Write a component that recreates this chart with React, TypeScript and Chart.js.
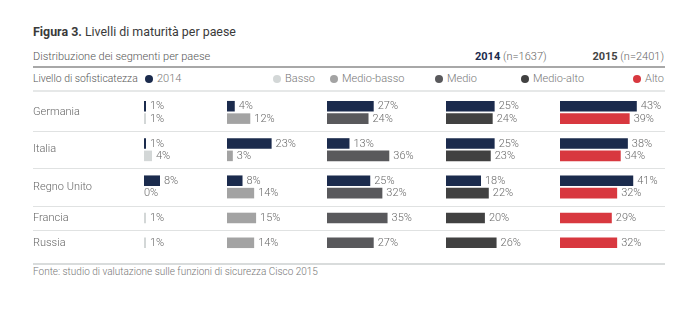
import React, { useEffect, useRef } from 'react';
import { Chart, registerables } from 'chart.js';

Chart.register(...registerables);

// ---------- data ----------
const countries = ['Germania', 'Italia', 'Regno Unito', 'Francia', 'Russia'];
const levels = ['Basso', 'Medio-basso', 'Medio', 'Medio-alto', 'Alto'];

const basso2014 = [1, 1, 8, null, null];
const medioBasso2014 = [4, 23, 8, null, null];
const medio2014 = [27, 13, 25, null, null];
const medioAlto2014 = [25, 25, 18, null, null];
const alto2014 = [43, 38, 41, null, null];

const basso2015 = [1, 4, 0, 1, 1];
const medioBasso2015 = [12, 3, 14, 15, 14];
const medio2015 = [24, 36, 32, 35, 27];
const medioAlto2015 = [24, 23, 22, 20, 26];
const alto2015 = [39, 34, 32, 29, 32];

const values2014 = [basso2014, medioBasso2014, medio2014, medioAlto2014, alto2014];
const values2015 = [basso2015, medioBasso2015, medio2015, medioAlto2015, alto2015];

// ---------- styles ----------
const NAVY = '#1b2b4d';
const levelColors = ['#d3d7d7', '#a3a3a3', '#59595c', '#414141', '#d8383f'];
const columnWidths = [83, 100, 119, 114, 105];
const pxPerPct = [2.0, 1.94, 1.73, 1.945, 1.786];
const FONT = 'Roboto, "Liberation Sans", Arial, sans-serif';

type Slot = { country: number; year: 2014 | 2015 | null };
const slots: Slot[] = [];
countries.forEach((_, ci) => {
  if (ci > 0) slots.push({ country: ci, year: null });
  if (values2014.some((arr) => arr[ci] != null)) slots.push({ country: ci, year: 2014 });
  slots.push({ country: ci, year: 2015 });
});

const decorPlugin = {
  id: 'decor',
  beforeDatasetsDraw(chart: any) {
    const ctx = chart.ctx;
    const y = chart.scales.y;
    ctx.save();
    ctx.strokeStyle = '#e0e2e2';
    ctx.lineWidth = 1;
    slots.forEach((s, k) => {
      if (s.year !== null) return;
      const py = Math.round(y.getPixelForValue(k)) + 0.5;
      ctx.beginPath();
      ctx.moveTo(0, py);
      ctx.lineTo(chart.width, py);
      ctx.stroke();
    });
    ctx.fillStyle = '#666666';
    ctx.font = `300 11px ${FONT}`;
    ctx.textBaseline = 'middle';
    ctx.textAlign = 'left';
    countries.forEach((c, ci) => {
      const idx = slots.map((s, k) => (s.country === ci && s.year !== null ? k : -1)).filter((k) => k >= 0);
      const py = idx.reduce((a, k) => a + y.getPixelForValue(k), 0) / idx.length;
      ctx.fillText(c, 0, py);
    });
    ctx.restore();
  },
  afterDatasetsDraw(chart: any) {
    const ctx = chart.ctx;
    ctx.save();
    ctx.fillStyle = '#6a6a6a';
    ctx.font = `300 11px ${FONT}`;
    ctx.textBaseline = 'middle';
    ctx.textAlign = 'left';
    chart.data.datasets.forEach((ds: any, di: number) => {
      const meta = chart.getDatasetMeta(di);
      meta.data.forEach((el: any, i: number) => {
        const v = ds.data[i];
        if (v == null) return;
        const base = chart.scales['x' + di].getPixelForValue(0);
        const end = Math.max(el.x, base);
        ctx.fillText(`${v}%`, end + (v === 0 ? 0 : 4), el.y + 0.5);
      });
    });
    ctx.restore();
  },
};

function RowsChart() {
  const ref = useRef<HTMLCanvasElement>(null);
  useEffect(() => {
    if (!ref.current) return;
    const scales: any = {
      y: {
        type: 'category',
        labels: slots.map((s) => (s.year ? `${countries[s.country]} ${s.year}` : '')),
        grid: { display: false, drawTicks: false },
        ticks: { display: false },
        border: { display: false },
      },
    };
    levels.forEach((_, li) => {
      scales['x' + li] = {
        type: 'linear',
        position: 'bottom',
        stack: 'cols',
        stackWeight: columnWidths[li],
        min: 0,
        max: columnWidths[li] / pxPerPct[li],
        display: false,
      };
    });
    const chart = new Chart(ref.current, {
      type: 'bar',
      data: {
        labels: slots.map((s) => (s.year ? `${countries[s.country]} ${s.year}` : '')),
        datasets: levels.map((lvl, li) => ({
          label: lvl,
          data: slots.map((s) =>
            s.year === 2014 ? values2014[li][s.country] : s.year === 2015 ? values2015[li][s.country] : null
          ),
          backgroundColor: slots.map((s) => (s.year === 2014 ? NAVY : levelColors[li])),
          xAxisID: 'x' + li,
          yAxisID: 'y',
          grouped: false,
          categoryPercentage: 1,
          barPercentage: 0.85,
          borderWidth: 0,
        })) as any,
      },
      options: {
        indexAxis: 'y',
        animation: false,
        responsive: false,
        maintainAspectRatio: false,
        devicePixelRatio: 1,
        layout: { padding: { left: 111, right: 0, top: 0, bottom: 0 } },
        plugins: { legend: { display: false }, tooltip: { enabled: false } },
        scales,
      } as any,
      plugins: [decorPlugin],
    });
    return () => chart.destroy();
  }, []);
  return (
    <canvas
      ref={ref}
      width={632}
      height={149}
      style={{ position: 'absolute', left: 33, top: 100, width: 632, height: 149 }}
    />
  );
}

const legendItems = [
  { label: '2014', color: NAVY, dot: 149 },
  { label: levels[0], color: levelColors[0], dot: 277 },
  { label: levels[1], color: levelColors[1], dot: 334 },
  { label: levels[2], color: levelColors[2], dot: 439 },
  { label: levels[3], color: levelColors[3], dot: 525 },
  { label: levels[4], color: levelColors[4], dot: 637 },
];

export default function App() {
  const text: React.CSSProperties = { position: 'absolute', fontFamily: FONT, whiteSpace: 'nowrap' };
  return (
    <div style={{ position: 'fixed', left: 0, top: 0, width: 696, height: 324, background: '#fff', overflow: 'hidden' }}>
      <div style={{ ...text, left: 33, top: 24, fontSize: 12.4, lineHeight: '16px', color: '#3a3a3a' }}>
        <span style={{ fontWeight: 700 }}>Figura 3.</span> Livelli di maturità per paese
      </div>
      <div style={{ ...text, left: 33, top: 50, fontSize: 11, lineHeight: '14px', color: '#555', fontWeight: 300 }}>
        Distribuzione dei segmenti per paese
      </div>
      <div style={{ ...text, left: 475, top: 50, fontSize: 11, lineHeight: '14px', color: '#666', fontWeight: 300 }}>
        <span style={{ fontWeight: 700, color: NAVY }}>2014</span> (n=1637)
      </div>
      <div style={{ ...text, right: 696 - 664, top: 50, fontSize: 11, lineHeight: '14px', color: '#666', fontWeight: 300 }}>
        <span style={{ fontWeight: 700, color: '#444' }}>2015</span> (n=2401)
      </div>
      <div style={{ position: 'absolute', left: 33, top: 66, width: 632, height: 2, background: '#a8a8a8' }} />
      <div style={{ ...text, left: 33, top: 72, fontSize: 10.4, lineHeight: '14px', color: '#555', fontWeight: 300 }}>
        Livello di sofisticatezza
      </div>
      {legendItems.map((it) => (
        <React.Fragment key={it.label}>
          <div
            style={{
              position: 'absolute',
              left: it.dot - 4,
              top: 75,
              width: 8,
              height: 8,
              borderRadius: 4,
              background: it.color,
            }}
          />
          <div style={{ ...text, left: it.dot + 8, top: 72, fontSize: 11, lineHeight: '14px', color: '#777', fontWeight: 300 }}>
            {it.label}
          </div>
        </React.Fragment>
      ))}
      <div style={{ position: 'absolute', left: 33, top: 90, width: 632, height: 2, background: '#e6e8e8' }} />
      <RowsChart />
      <div style={{ position: 'absolute', left: 33, top: 263, width: 632, height: 2, background: '#d9dcdc' }} />
      <div style={{ ...text, left: 33, top: 266, fontSize: 10, lineHeight: '12px', color: '#777', fontWeight: 300 }}>
        Fonte: studio di valutazione sulle funzioni di sicurezza Cisco 2015
      </div>
    </div>
  );
}
